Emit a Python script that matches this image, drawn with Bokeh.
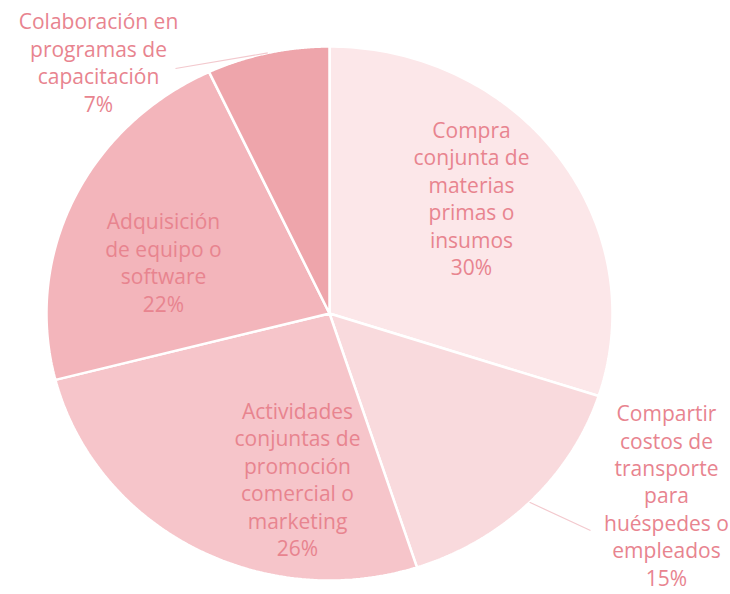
import numpy as np
from bokeh.plotting import figure
from bokeh.models import Range1d, ColumnDataSource
from bokeh.core.properties import value
from bokeh.embed import file_html
from bokeh.resources import INLINE

# ---- data ----
categories = [
    "Compra\nconjunta de\nmaterias\nprimas o\ninsumos",
    "Compartir\ncostos de\ntransporte\npara\nhuéspedes o\nempleados",
    "Actividades\nconjuntas de\npromoción\ncomercial o\nmarketing",
    "Adquisición\nde equipo o\nsoftware",
    "Colaboración en\nprogramas de\ncapacitación",
]
shares = [30, 15, 26, 22, 7]

# ---- styling / layout ----
colors = ["#fce7e9", "#f9dadd", "#f6c5ca", "#f3b5bb", "#eea5ab"]
text_color = "#e8848f"
W, H = 730, 594
cx, cy, rx, ry = 329, 313, 283, 267
# label centres (screen px)
label_pos = [(471, 198), (666, 495), (297, 479), (163, 262), (98, 62)]
# leader endpoints for outside labels (None = inside)
leader_end = [None, (590, 530), None, None, (175, 68)]

p = figure(width=W, height=H, output_backend="svg", toolbar_location=None,
           x_range=Range1d(0, W), y_range=Range1d(H, 0), min_border=0)
p.axis.visible = False
p.grid.visible = False
p.outline_line_color = None
p.background_fill_color = "white"

total = sum(shares)
cum = np.cumsum([0] + shares) / total * 2 * np.pi
xs, ys = [], []
for i in range(len(shares)):
    t = np.linspace(cum[i], cum[i + 1], 120)
    px = np.concatenate([[cx], cx + rx * np.sin(t)])
    py = np.concatenate([[cy], cy - ry * np.cos(t)])
    xs.append(list(px))
    ys.append(list(py))
p.patches(xs=xs, ys=ys, fill_color=colors, line_color="white", line_width=2.5)

# leader lines
for i in range(len(shares)):
    if leader_end[i] is None:
        continue
    mid = (cum[i] + cum[i + 1]) / 2
    sx = cx + rx * np.sin(mid)
    sy = cy - ry * np.cos(mid)
    ex, ey = leader_end[i]
    p.line([sx, ex], [sy, ey], line_color="#f3c9ce", line_width=1.2)

labels = [f"{c}\n{s}%" for c, s in zip(categories, shares)]
src = ColumnDataSource(dict(x=[a for a, b in label_pos], y=[b for a, b in label_pos], t=labels))
p.text(x="x", y="y", text="t", source=src, text_align="center", text_baseline="middle",
       text_color=text_color, text_font=value("Open Sans"), text_font_size="21px",
       text_line_height=0.98)

open("out.html", "w").write(file_html(p, INLINE))
